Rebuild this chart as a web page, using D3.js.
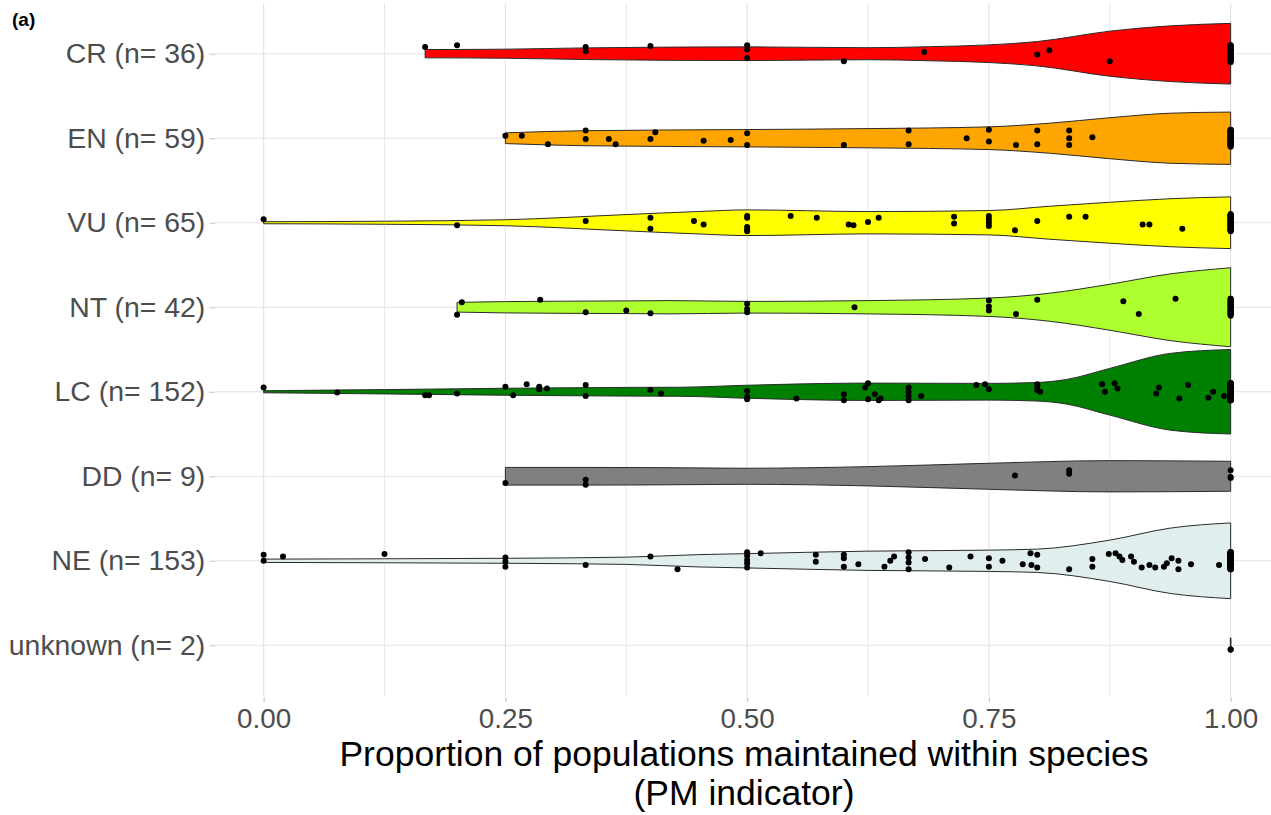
<!DOCTYPE html>
<html>
<head>
<meta charset="utf-8">
<script src="https://cdn.jsdelivr.net/npm/d3@7"></script>
<style>
  body { margin: 0; background: #fff; }
  svg { display: block; }
  text { font-family: "Liberation Sans", Arial, sans-serif; }
</style>
</head>
<body>
<svg id="chart" width="1271" height="815"></svg>
<script>
// categories, top to bottom
const categories = ['CR', 'EN', 'VU', 'NT', 'LC', 'DD', 'NE', 'unknown'];
const counts = [36, 59, 65, 42, 152, 9, 153, 2];
const xTicks = [0, 0.25, 0.5, 0.75, 1];
const xMinor = [0.125, 0.375, 0.625, 0.875];

// violin outline: [PM value, full width as share of the row]
const violinCR = [[0.167,0.098],[0.25,0.107],[0.333,0.138],[0.5,0.162],[0.625,0.142],[0.6875,0.166],[0.75,0.209],[0.8,0.288],[0.875,0.533],[0.9375,0.659],[1,0.718]];
const violinEN = [[0.25,0.127],[0.333,0.178],[0.5,0.205],[0.625,0.228],[0.75,0.269],[0.8125,0.355],[0.875,0.485],[0.9375,0.592],[1,0.619]];
const violinVU = [[0,0.024],[0.125,0.036],[0.25,0.071],[0.375,0.193],[0.45,0.266],[0.5,0.304],[0.625,0.264],[0.75,0.288],[0.8125,0.39],[0.875,0.485],[0.9375,0.568],[1,0.612]];
const violinNT = [[0.2,0.115],[0.25,0.134],[0.375,0.15],[0.42,0.157],[0.5,0.138],[0.625,0.157],[0.75,0.217],[0.8125,0.331],[0.875,0.544],[0.9375,0.789],[1,0.935]];
const violinLC = [[0,0.024],[0.125,0.051],[0.25,0.083],[0.375,0.103],[0.43,0.107],[0.5,0.154],[0.625,0.205],[0.75,0.198],[0.8,0.22],[0.83,0.29],[0.875,0.553],[0.9375,0.908],[1,1.0]];
const violinDD = [[0.25,0.209],[0.333,0.209],[0.4,0.205],[0.5,0.19],[0.625,0.228],[0.75,0.308],[0.875,0.37],[1,0.355]];
const violinNE = [[0,0.039],[0.125,0.047],[0.25,0.059],[0.375,0.086],[0.45,0.146],[0.5,0.169],[0.625,0.228],[0.75,0.252],[0.8,0.276],[0.875,0.489],[0.9375,0.773],[1,0.896]];
const violinUnknown = [[1,0.166],[1,0.166]];

// species points off 1.0: [PM value, vertical jitter in rows, + = down]
const ptsCR = [[0.167,-0.08],[0.2,-0.1],[0.333,-0.08],[0.333,-0.03],[0.4,-0.09],[0.5,-0.1],[0.5,-0.05],[0.5,0.05],[0.6,0.09],[0.683,-0.02],[0.8,0.01],[0.8125,-0.04],[0.875,0.09]];
const ptsEN = [[0.25,-0.03],[0.267,-0.03],[0.294,0.07],[0.333,-0.09],[0.333,0.01],[0.357,0.01],[0.364,0.07],[0.4,0.01],[0.405,-0.07],[0.455,0.03],[0.483,0.02],[0.5,-0.06],[0.5,0.08],[0.6,0.08],[0.667,-0.09],[0.667,0.07],[0.727,0],[0.75,-0.1],[0.75,0.04],[0.778,0.08],[0.8,-0.09],[0.8,0.07],[0.833,-0.09],[0.833,0],[0.833,0.08],[0.857,-0.01]];
const ptsVU = [[0,-0.04],[0.2,0.03],[0.333,-0.02],[0.4,-0.06],[0.4,0.07],[0.445,-0.02],[0.455,0.02],[0.5,-0.08],[0.5,-0.06],[0.5,0.05],[0.5,0.08],[0.5,0.1],[0.545,-0.08],[0.572,-0.06],[0.605,0.02],[0.61,0.03],[0.625,-0.01],[0.636,-0.06],[0.714,-0.07],[0.714,0.01],[0.75,-0.08],[0.75,-0.04],[0.75,0],[0.75,0.04],[0.777,0.09],[0.8,-0.02],[0.833,-0.07],[0.85,-0.07],[0.909,0.02],[0.916,0.02],[0.95,0.07]];
const ptsNT = [[0.2,0.09],[0.205,-0.06],[0.286,-0.09],[0.333,0.06],[0.375,0.04],[0.4,0.07],[0.5,-0.04],[0.5,0.02],[0.5,0.06],[0.611,0],[0.75,-0.08],[0.75,-0.01],[0.75,0.04],[0.778,0.08],[0.8,-0.09],[0.889,-0.07],[0.905,0.08],[0.943,-0.1]];
const ptsLC = [[0,-0.05],[0.076,0.01],[0.167,0.04],[0.171,0.04],[0.2,0.02],[0.25,-0.06],[0.258,0.04],[0.272,-0.09],[0.285,-0.06],[0.285,-0.03],[0.293,-0.04],[0.333,-0.08],[0.333,0.05],[0.4,-0.02],[0.411,0.02],
  [0.5,-0.01],[0.5,0.06],[0.5,0.09],[0.551,0.08],[0.6,0.03],[0.6,0.1],[0.622,-0.05],[0.625,-0.1],[0.625,0.09],[0.632,0.03],[0.636,0.1],[0.638,0.08],[0.667,-0.05],[0.667,0],[0.667,0.05],[0.667,0.1],[0.68,0.05],[0.737,-0.08],[0.746,-0.09],[0.75,-0.03],
  [0.8,-0.09],[0.8,-0.06],[0.8,-0.02],[0.803,0],[0.867,-0.09],[0.87,0],[0.88,-0.1],[0.883,-0.04],[0.923,0.02],[0.926,-0.05],[0.947,0.08],[0.956,-0.08],[0.977,0.07],[0.982,0],[0.993,0.05]];
const ptsDD = [[0.25,0.08],[0.333,0.04],[0.333,0.1],[0.777,-0.01],[0.833,-0.07],[0.833,-0.03],[1,-0.07],[1,0.01],[1,0.02]];
const ptsNE = [[0,-0.07],[0,0],[0.02,-0.05],[0.125,-0.08],[0.25,-0.04],[0.25,0.01],[0.25,0.07],[0.333,0.05],[0.4,-0.05],[0.428,0.1],
  [0.5,-0.1],[0.5,-0.06],[0.5,-0.01],[0.5,0.03],[0.5,0.08],[0.514,-0.09],[0.571,-0.07],[0.571,0.01],[0.6,-0.07],[0.6,-0.03],[0.6,0.07],[0.615,0.04],[0.642,0.07],[0.648,0],[0.652,-0.05],
  [0.667,-0.1],[0.667,-0.04],[0.667,0.02],[0.667,0.1],[0.684,-0.02],[0.709,0.08],[0.731,-0.05],[0.75,-0.03],[0.75,0.07],[0.764,0],[0.785,0.04],[0.793,-0.09],[0.794,0.05],[0.8,-0.07],[0.8,0.08],
  [0.833,0.1],[0.857,-0.02],[0.857,0.07],[0.874,-0.08],[0.881,-0.09],[0.885,-0.05],[0.888,-0.01],[0.897,-0.05],[0.9,0.01],[0.908,0.08],[0.916,0.05],[0.922,0.08],
  [0.931,0.07],[0.934,0.03],[0.939,-0.03],[0.946,0],[0.946,0.1],[0.959,0.04],[0.988,0.05]];
const ptsUnknown = [[1,0.05],[1,0.05]];

// species sitting exactly at 1.0 (drawn as one jittered stack)
const stackCounts = [23, 33, 34, 24, 102, 0, 94, 0];
const stackJitter = [-0.1,0.06,-0.03,0.09,-0.07,0.01,-0.09,0.04,-0.05,0.08,-0.01,0.03,-0.08,0.1,-0.04,0.02,-0.06,0.07,0,-0.02,0.05];

const violins = [violinCR, violinEN, violinVU, violinNT, violinLC, violinDD, violinNE, violinUnknown];
const points = [ptsCR, ptsEN, ptsVU, ptsNT, ptsLC, ptsDD, ptsNE, ptsUnknown];
const fills = ['#FF0000', '#FFA500', '#FFFF00', '#ADFF2F', '#008000', '#808080', '#E0EEEE', '#E0EEEE'];

const svg = d3.select('#chart');
const panel = { left: 215.3, right: 1279, top: 3, bottom: 696 };

const x = d3.scaleLinear().domain([-0.05, 1.05]).range([panel.left, panel.right]);
const y = d3.scalePoint().domain(categories).range([panel.top, panel.bottom]).padding(0.6);
const w = d3.scaleLinear().domain([0, 1]).range([0, y.step()]);

const grid = svg.append('g');
grid.selectAll('line.minor').data(xMinor).enter().append('line')
  .attr('x1', d => x(d)).attr('x2', d => x(d))
  .attr('y1', panel.top).attr('y2', panel.bottom)
  .attr('stroke', '#e6e6e6').attr('stroke-width', 0.9);
grid.selectAll('line.major').data(xTicks).enter().append('line')
  .attr('x1', d => x(d)).attr('x2', d => x(d))
  .attr('y1', panel.top).attr('y2', panel.bottom)
  .attr('stroke', '#e3e3e3').attr('stroke-width', 1.1);
grid.selectAll('line.hz').data(categories).enter().append('line')
  .attr('x1', panel.left).attr('x2', panel.right)
  .attr('y1', d => y(d)).attr('y2', d => y(d))
  .attr('stroke', '#e3e3e3').attr('stroke-width', 1.1);

// violins
const violinG = svg.append('g');
categories.forEach(function(cat, i) {
  const cy = y(cat);
  const area = d3.area()
    .x(d => x(d[0]))
    .y0(d => cy - w(d[1]) / 2)
    .y1(d => cy + w(d[1]) / 2)
    .curve(violins[i].length > 2 ? d3.curveMonotoneX : d3.curveLinear);
  violinG.append('path')
    .datum(violins[i])
    .attr('d', area)
    .attr('fill', fills[i])
    .attr('stroke', '#2b2b2b')
    .attr('stroke-width', cat === 'unknown' ? 1.6 : 1)
    .attr('stroke-linejoin', 'round');
});

// points
const dotG = svg.append('g');
categories.forEach(function(cat, i) {
  let pts = points[i].slice();
  for (let k = 0; k < stackCounts[i]; k++) pts.push([1, stackJitter[k % stackJitter.length]]);
  dotG.selectAll(null).data(pts).enter().append('circle')
    .attr('cx', d => x(d[0]))
    .attr('cy', d => y(cat) + d[1] * y.step())
    .attr('r', 3)
    .attr('fill', '#000');
});

// axes
const xAxis = svg.append('g')
  .attr('transform', 'translate(0,' + (panel.bottom + 1) + ')')
  .call(d3.axisBottom(x).tickValues(xTicks).tickFormat(d3.format('.2f')).tickSize(5).tickPadding(6));
xAxis.select('.domain').remove();
xAxis.selectAll('line').attr('stroke', '#c8c8c8').attr('stroke-width', 1.1);
xAxis.selectAll('text').attr('fill', '#4d4d4d').style('font-size', '27.8px');

const yAxis = svg.append('g')
  .attr('transform', 'translate(' + panel.left + ',0)')
  .call(d3.axisLeft(y).tickSize(6).tickPadding(4).tickFormat((d, i) => d + ' (n= ' + counts[i] + ')'));
yAxis.select('.domain').remove();
yAxis.selectAll('line').attr('stroke', '#c8c8c8').attr('stroke-width', 1.1);
yAxis.selectAll('text').attr('fill', '#4d4d4d').style('font-size', '28.4px');

// titles
svg.append('text')
  .attr('x', 744).attr('y', 766)
  .attr('text-anchor', 'middle')
  .style('font-size', '35.5px').attr('fill', '#000')
  .text('Proportion of populations maintained within species');
svg.append('text')
  .attr('x', 744).attr('y', 805)
  .attr('text-anchor', 'middle')
  .style('font-size', '35.5px').attr('fill', '#000')
  .text('(PM indicator)');
svg.append('text')
  .attr('x', 12).attr('y', 26)
  .style('font-size', '19px').style('font-weight', 'bold').attr('fill', '#000')
  .text('(a)');
</script>
</body>
</html>
